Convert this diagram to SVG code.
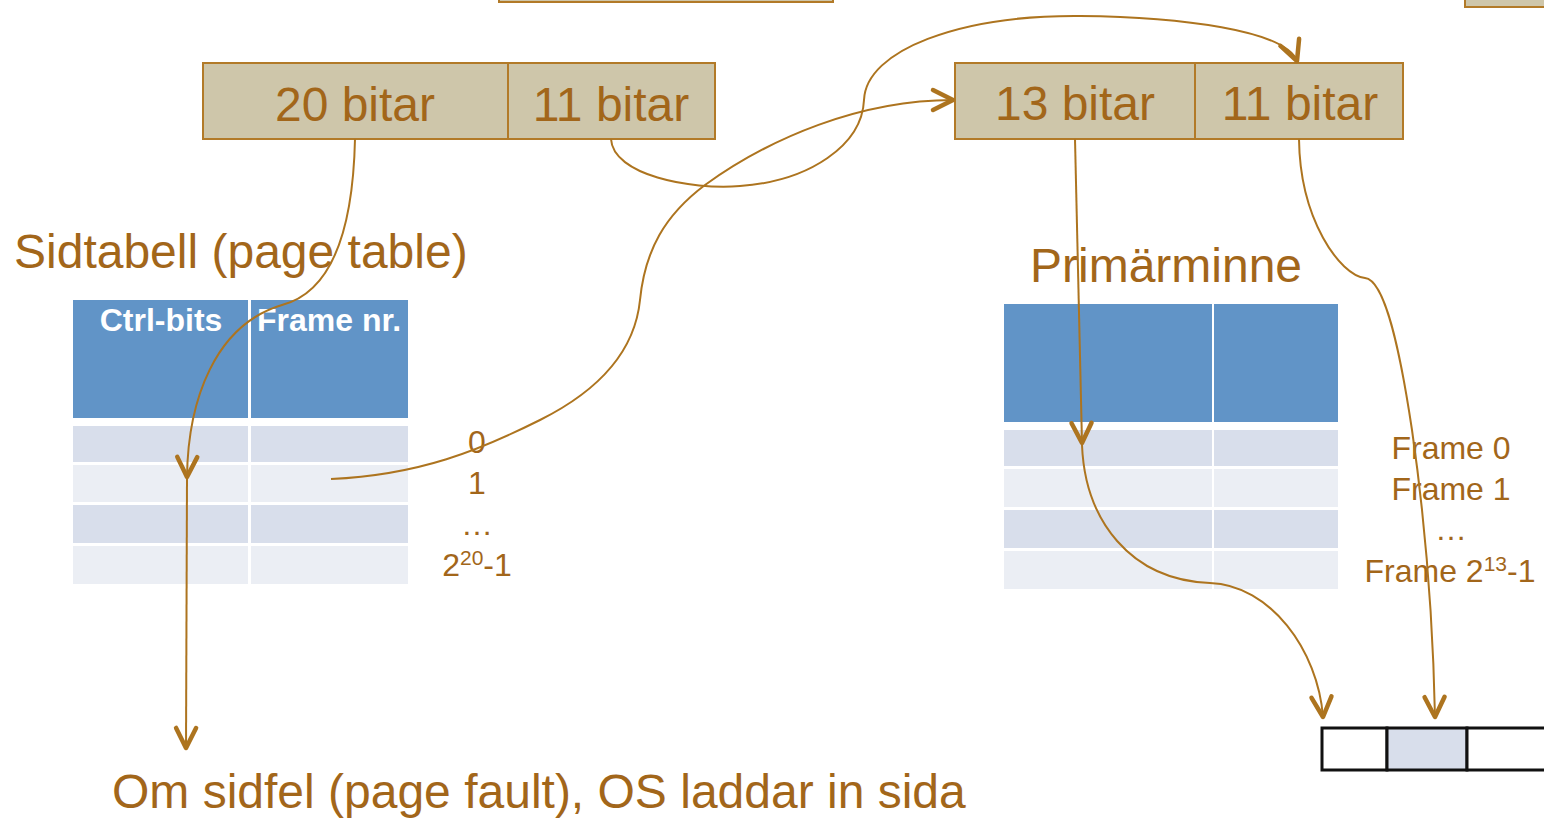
<svg xmlns="http://www.w3.org/2000/svg" width="1544" height="819" viewBox="0 0 1544 819">
  <style>
    .field { fill: #CEC6AA; stroke: #B27A28; stroke-width: 2; }
    .big { font-family: "Liberation Sans", Arial, sans-serif; font-size: 48px; fill: #A2661A; }
    .idx { font-family: "Liberation Sans", Arial, sans-serif; font-size: 32px; fill: #A2661A; text-anchor: middle; }
    .head { fill: #6194C7; }
    .rowA { fill: #D8DEEB; }
    .rowB { fill: #EBEEF4; }
    .hdtext { font-family: "Liberation Sans", Arial, sans-serif; font-size: 32px; font-weight: bold; fill: #FFFFFF; text-anchor: middle; }
    .link { fill: none; stroke: #AD741F; stroke-width: 2; }
    .cell { stroke: #111111; stroke-width: 3; }
  </style>
  <defs>
    <marker id="vee" viewBox="-26 -14 30 28" refX="0" refY="0" markerWidth="30" markerHeight="28" markerUnits="userSpaceOnUse" orient="auto">
      <path d="M-20,-10 L0,0 L-20,10" fill="none" stroke="#AD741F" stroke-width="4.5" stroke-linecap="round" stroke-linejoin="round"/>
    </marker>
  </defs>

  <rect width="1544" height="819" fill="#FFFFFF"/>

  <!-- fields cut off at the top edge -->
  <g id="top-field-a"><rect class="field" x="499" y="-40" width="334" height="42"/></g>
  <g id="top-field-b"><rect class="field" x="1465" y="-40" width="100" height="47"/></g>

  <!-- virtual address -->
  <g id="vaddr">
    <rect class="field" x="203" y="63" width="305" height="76"/>
    <rect class="field" x="508" y="63" width="207" height="76"/>
    <text class="big" x="355" y="121" text-anchor="middle">20 bitar</text>
    <text class="big" x="611" y="121" text-anchor="middle">11 bitar</text>
  </g>

  <!-- physical address -->
  <g id="paddr">
    <rect class="field" x="955" y="63" width="240" height="76"/>
    <rect class="field" x="1195" y="63" width="208" height="76"/>
    <text class="big" x="1075" y="120" text-anchor="middle">13 bitar</text>
    <text class="big" x="1300" y="120" text-anchor="middle">11 bitar</text>
  </g>

  <!-- page table -->
  <g id="pagetable">
    <text class="big" x="14" y="268">Sidtabell (page table)</text>
    <rect class="head" x="73" y="300" width="175" height="118"/>
    <rect class="head" x="251" y="300" width="157" height="118"/>
    <text class="hdtext" x="161" y="331">Ctrl-bits</text>
    <text class="hdtext" x="329" y="331">Frame nr.</text>
    <rect class="rowA" x="73" y="426" width="175" height="36"/>
    <rect class="rowA" x="251" y="426" width="157" height="36"/>
    <rect class="rowB" x="73" y="465" width="175" height="37"/>
    <rect class="rowB" x="251" y="465" width="157" height="37"/>
    <rect class="rowA" x="73" y="505" width="175" height="38"/>
    <rect class="rowA" x="251" y="505" width="157" height="38"/>
    <rect class="rowB" x="73" y="546" width="175" height="38"/>
    <rect class="rowB" x="251" y="546" width="157" height="38"/>
    <text class="idx" x="477" y="453">0</text>
    <text class="idx" x="477" y="494">1</text>
    <text class="idx" x="477" y="535">…</text>
    <text class="idx" x="477" y="576">2<tspan font-size="21" dy="-11">20</tspan><tspan dy="11">-1</tspan></text>
  </g>

  <!-- main memory -->
  <g id="mainmemory">
    <text class="big" x="1030" y="282">Primärminne</text>
    <rect class="head" x="1004" y="304" width="208" height="118"/>
    <rect class="head" x="1214" y="304" width="124" height="118"/>
    <rect class="rowA" x="1004" y="430" width="208" height="36"/>
    <rect class="rowA" x="1214" y="430" width="124" height="36"/>
    <rect class="rowB" x="1004" y="469" width="208" height="38"/>
    <rect class="rowB" x="1214" y="469" width="124" height="38"/>
    <rect class="rowA" x="1004" y="510" width="208" height="38"/>
    <rect class="rowA" x="1214" y="510" width="124" height="38"/>
    <rect class="rowB" x="1004" y="551" width="208" height="38"/>
    <rect class="rowB" x="1214" y="551" width="124" height="38"/>
    <text class="idx" x="1451" y="459">Frame 0</text>
    <text class="idx" x="1451" y="500">Frame 1</text>
    <text class="idx" x="1451" y="540">…</text>
    <text class="idx" x="1450" y="582">Frame 2<tspan font-size="21" dy="-11">13</tspan><tspan dy="11">-1</tspan></text>
  </g>

  <!-- byte cells of the addressed frame -->
  <g id="bytes">
    <rect class="cell" x="1322" y="728" width="65" height="42" fill="#FFFFFF"/>
    <rect class="cell" x="1387" y="728" width="80" height="42" fill="#D8DEEB"/>
    <rect class="cell" x="1467" y="728" width="90" height="42" fill="#FFFFFF"/>
  </g>

  <!-- note -->
  <g id="note">
    <text class="big" x="112" y="808">Om sidfel (page fault), OS laddar in sida</text>
  </g>

  <g id="connectors">
    <path class="link" marker-end="url(#vee)" d="M355,139 C353,230 332,292 282,305 C215,325 188,400 187,477"/>
    <path class="link" marker-end="url(#vee)" d="M187,479 L186,748"/>
    <path class="link" marker-end="url(#vee)" d="M611,139 C613,175 690,190 740,186 C810,181 862,145 864,100 C866,50 960,15 1080,16 C1180,17 1285,30 1297,61"/>
    <path class="link" marker-end="url(#vee)" d="M331,479 C420,475 480,450 540,420 C600,390 635,350 640,300 C645,250 665,215 705,185 C770,138 860,100 953,100"/>
    <path class="link" marker-end="url(#vee)" d="M1075,139 L1082,443"/>
    <path class="link" marker-end="url(#vee)" d="M1082,445 C1085,520 1130,580 1210,583 C1270,585 1318,650 1323,717"/>
    <path class="link" marker-end="url(#vee)" d="M1299,139 C1300,220 1340,275 1365,278 C1385,280 1400,350 1412,430 C1425,520 1433,620 1435,717"/>
  </g>
</svg>
